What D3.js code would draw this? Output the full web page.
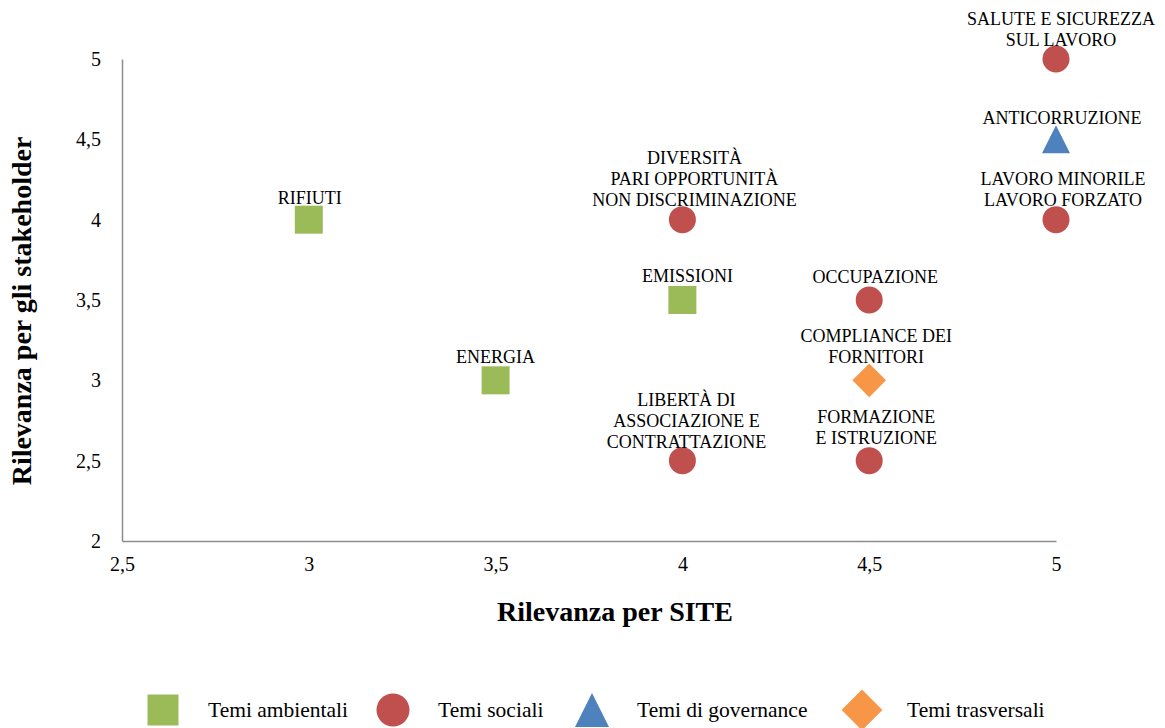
<!DOCTYPE html>
<html>
<head>
<meta charset="utf-8">
<script src="https://cdn.jsdelivr.net/npm/d3@7"></script>
<style>
  body { margin: 0; background: #fff; }
  svg { display: block; font-family: 'Liberation Serif', 'Times New Roman', serif; }
</style>
</head>
<body>
<div id="chart"></div>
<script>
// data
const xTicks = [2.5, 3, 3.5, 4, 4.5, 5];
const yTicks = [2, 2.5, 3, 3.5, 4, 4.5, 5];

const groups = ['Temi ambientali', 'Temi sociali', 'Temi di governance', 'Temi trasversali'];

const ambientali = [
  { name: ['RIFIUTI'], x: 3, y: 4 },
  { name: ['EMISSIONI'], x: 4, y: 3.5 },
  { name: ['ENERGIA'], x: 3.5, y: 3 }
];
const sociali = [
  { name: ['SALUTE E SICUREZZA', 'SUL LAVORO'], x: 5, y: 5 },
  { name: ['LAVORO MINORILE', 'LAVORO FORZATO'], x: 5, y: 4 },
  { name: ['DIVERSITÀ', 'PARI OPPORTUNITÀ', 'NON DISCRIMINAZIONE'], x: 4, y: 4 },
  { name: ['OCCUPAZIONE'], x: 4.5, y: 3.5 },
  { name: ['LIBERTÀ DI', 'ASSOCIAZIONE E', 'CONTRATTAZIONE'], x: 4, y: 2.5 },
  { name: ['FORMAZIONE', 'E ISTRUZIONE'], x: 4.5, y: 2.5 }
];
const governance = [
  { name: ['ANTICORRUZIONE'], x: 5, y: 4.5 }
];
const trasversali = [
  { name: ['COMPLIANCE DEI', 'FORNITORI'], x: 4.5, y: 3 }
];

// label nudges (px), keyed by first line
const labelShift = {
  'RIFIUTI': [1, -16],
  'EMISSIONI': [5, -18],
  'ENERGIA': [0, -17],
  'SALUTE E SICUREZZA': [5, -13],
  'LAVORO MINORILE': [7, -14],
  'DIVERSITÀ': [12, -14],
  'OCCUPAZIONE': [6, -17],
  'LIBERTÀ DI': [4, -13],
  'FORMAZIONE': [7, -17],
  'ANTICORRUZIONE': [6, -15],
  'COMPLIANCE DEI': [7, -17]
};

const colors = ['#9BBB59', '#C0504D', '#4F81BD', '#F79646'];
const series = [ambientali, sociali, governance, trasversali];

const width = 1165, height = 728;
const margin = { left: 122, right: 109, top: 59, bottom: 187 };

const svg = d3.select('#chart').append('svg')
  .attr('width', width)
  .attr('height', height);

const x = d3.scaleLinear().domain([2.5, 5]).range([margin.left, width - margin.right]);
const y = d3.scaleLinear().domain([2, 5]).range([height - margin.bottom, margin.top]);

const fmt = d => String(d).replace('.', ',');

// axes
const xAxis = svg.append('g')
  .attr('transform', 'translate(0,' + y(2) + ')')
  .call(d3.axisBottom(x).tickValues(xTicks).tickFormat(fmt).tickSize(0).tickPadding(16));
const yAxis = svg.append('g')
  .attr('transform', 'translate(' + x(2.5) + ',0)')
  .call(d3.axisLeft(y).tickValues(yTicks).tickFormat(fmt).tickSize(0).tickPadding(21));

[xAxis, yAxis].forEach(function (a) {
  a.select('.domain').attr('stroke', '#8c8c8c').attr('stroke-width', 1.5);
  a.selectAll('text')
    .attr('fill', '#000')
    .style('font-family', "'Liberation Serif', serif")
    .style('font-size', '20px');
});
xAxis.selectAll('text').attr('dy', '0.71em');

// axis titles
svg.append('text')
  .attr('x', 615)
  .attr('y', 621)
  .attr('text-anchor', 'middle')
  .style('font-weight', 'bold')
  .style('font-size', '28px')
  .text('Rilevanza per SITE');

svg.append('text')
  .attr('transform', 'translate(31,311) rotate(-90)')
  .attr('text-anchor', 'middle')
  .style('font-weight', 'bold')
  .style('font-size', '28px')
  .text('Rilevanza per gli stakeholder');

// marker shapes
function markerPath(i, s) {
  if (i === 0) return 'M' + (-s) + ',' + (-s) + 'H' + s + 'V' + s + 'H' + (-s) + 'Z';
  if (i === 1) return d3.symbol(d3.symbolCircle, Math.PI * s * s)();
  if (i === 2) return 'M0,' + (-s) + 'L' + s + ',' + s + 'H' + (-s) + 'Z';
  return 'M0,' + (-s * 1.2) + 'L' + (s * 1.2) + ',0L0,' + (s * 1.2) + 'L' + (-s * 1.2) + ',0Z';
}
const chartSize = [14, 13.5, 14, 14];
const legendSize = [15.5, 16.5, 17, 17];

series.forEach(function (data, i) {
  const g = svg.append('g');
  g.selectAll('path')
    .data(data)
    .enter()
    .append('path')
    .attr('transform', d => 'translate(' + x(d.x) + ',' + y(d.y) + ')')
    .attr('d', markerPath(i, chartSize[i]))
    .attr('fill', colors[i]);

  const labels = g.selectAll('text')
    .data(data)
    .enter()
    .append('text')
    .attr('text-anchor', 'middle')
    .style('font-size', '18px')
    .attr('transform', function (d) {
      const sh = labelShift[d.name[0]];
      const n = d.name.length;
      return 'translate(' + (x(d.x) + sh[0]) + ',' + (y(d.y) + sh[1] - (n - 1) * 21) + ')';
    });
  labels.selectAll('tspan')
    .data(d => d.name)
    .enter()
    .append('tspan')
    .attr('x', 0)
    .attr('dy', (d, j) => j === 0 ? 0 : 21)
    .text(d => d);
});

// legend
const legendX = [163, 393, 592, 862];
const legend = svg.selectAll('.legend')
  .data(groups)
  .enter()
  .append('g')
  .attr('class', 'legend')
  .attr('transform', (d, i) => 'translate(' + legendX[i] + ',710)');

legend.append('path')
  .attr('d', (d, i) => markerPath(i, legendSize[i]))
  .attr('fill', (d, i) => colors[i]);

legend.append('text')
  .attr('x', 45)
  .attr('y', 7)
  .style('font-size', '21.5px')
  .text(d => d);
</script>
</body>
</html>
